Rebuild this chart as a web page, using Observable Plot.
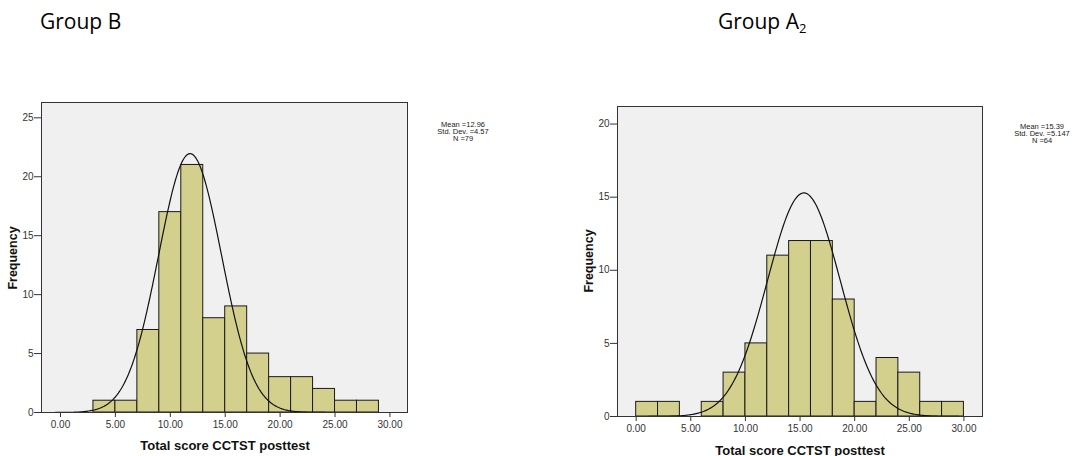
<!DOCTYPE html>
<html><head><meta charset="utf-8">
<script src="https://cdn.jsdelivr.net/npm/d3@7"></script>
<script src="https://cdn.jsdelivr.net/npm/@observablehq/plot@0.6"></script>
<style>
body{margin:0;background:#fff;width:1086px;height:456px;overflow:hidden;position:relative;font-family:"Liberation Sans",Arial,sans-serif;}
.abs{position:absolute;}
.title{font-family:"Open Sans",sans-serif;font-size:21px;color:#000;line-height:1;white-space:nowrap;}
.title sub{font-size:13px;vertical-align:-4px;line-height:0;}
.axt{font-weight:bold;font-size:13px;color:#111;white-space:nowrap;transform:translate(-50%,-50%);}
.ylab{font-size:12.5px;transform:translate(-50%,-50%) rotate(-90deg);}
.stats{font-size:7.5px;line-height:7px;text-align:center;color:#222;transform:translateX(-50%);white-space:nowrap;}
</style></head><body>
<div class="abs title" style="left:40px;top:11px;">Group B</div>
<div class="abs title" style="left:718px;top:11px;">Group A<sub>2</sub></div>
<div id="chartB" class="abs" style="left:0px;top:95px;"></div>
<div id="chartA2" class="abs" style="left:560px;top:95px;"></div>
<div id="statsB" class="abs stats" style="left:463px;top:121px;"></div>
<div id="statsA2" class="abs stats" style="left:1042px;top:123px;"></div>
<div class="abs axt ylab" style="left:13px;top:258px;">Frequency</div>
<div class="abs axt ylab" style="left:589px;top:261px;">Frequency</div>
<div class="abs axt" style="left:225px;top:445px;">Total score CCTST posttest</div>
<div class="abs axt" style="left:800px;top:450px;">Total score CCTST posttest</div>
<script>
// ---- data ----
const binWidth = 2;
const binStartB = [3, 5, 7, 9, 11, 13, 15, 17, 19, 21, 23, 25, 27];
const countB    = [1, 1, 7, 17, 21, 8, 9, 5, 3, 3, 2, 1, 1];
const binStartA2 = [0, 2, 6, 8, 10, 12, 14, 16, 18, 20, 22, 24, 26, 28];
const countA2    = [1, 1, 1, 3, 5, 11, 12, 12, 8, 1, 4, 3, 1, 1];
const xTicks   = [0, 5, 10, 15, 20, 25, 30];
const yTicksB  = [0, 5, 10, 15, 20, 25];
const yTicksA2 = [0, 5, 10, 15, 20];
const statsB  = ["Mean =12.96", "Std. Dev. =4.57", "N =79"];
const statsA2 = ["Mean =15.39", "Std. Dev. =5.147", "N =64"];
// normal curve parameters as drawn
const curveMeanB = 11.8, curveSdB = 2.87, curveNB = 79;
const curveMeanA2 = 15.35, curveSdA2 = 3.34, curveNA2 = 64;

function normalCurve(mean, sd, n, x0, x1) {
  const k = n * binWidth / (sd * Math.sqrt(2 * Math.PI));
  return d3.range(x0, x1, 0.1).map(x => ({x, y: k * Math.exp(-0.5 * ((x - mean) / sd) ** 2)}));
}

function hist(starts, counts, yTicks, curvePts, o) {
  const bars = starts.map((s, i) => ({x1: s, x2: s + binWidth, count: counts[i]}));
  return Plot.plot({
    width: o.width, height: o.height,
    marginLeft: o.ml, marginRight: o.mr, marginTop: o.mt, marginBottom: o.mb,
    x: {domain: o.xd}, y: {domain: o.yd},
    style: {background: "transparent", fontFamily: "'Liberation Sans', Arial, sans-serif", fontSize: "10px", color: "#333", overflow: "visible"},
    marks: [
      Plot.frame({fill: "#f0f0f0", stroke: null}),
      Plot.rectY(bars, {x1: "x1", x2: "x2", y: "count", fill: "#d3cf8c", stroke: "#1a1a1a", strokeWidth: 1}),
      Plot.line(curvePts, {x: "x", y: "y", stroke: "#111", strokeWidth: 1.2, clip: true}),
      Plot.frame({stroke: "#333"}),
      Plot.axisX(xTicks, {tickFormat: d => d.toFixed(2), tickSize: 5, tickPadding: 3, label: null}),
      Plot.axisY(yTicks, {tickSize: 7, tickPadding: 1, label: null})
    ]
  });
}

const xdB = [-1.73, 31.6], xdA2 = [-1.71, 31.7];
document.getElementById("chartB").append(
  hist(binStartB, countB, yTicksB, normalCurve(curveMeanB, curveSdB, curveNB, xdB[0], xdB[1]),
    {width: 500, height: 361, ml: 41, mr: 93, mt: 7, mb: 44, xd: xdB, yd: [0, 26.3]}));
document.getElementById("chartA2").append(
  hist(binStartA2, countA2, yTicksA2, normalCurve(curveMeanA2, curveSdA2, curveNA2, xdA2[0], xdA2[1]),
    {width: 526, height: 361, ml: 57, mr: 104, mt: 11, mb: 40, xd: xdA2, yd: [0, 21.2]}));

document.getElementById("statsB").innerHTML = statsB.map(s => `<div>${s}</div>`).join("");
document.getElementById("statsA2").innerHTML = statsA2.map(s => `<div>${s}</div>`).join("");
</script>
</body></html>
